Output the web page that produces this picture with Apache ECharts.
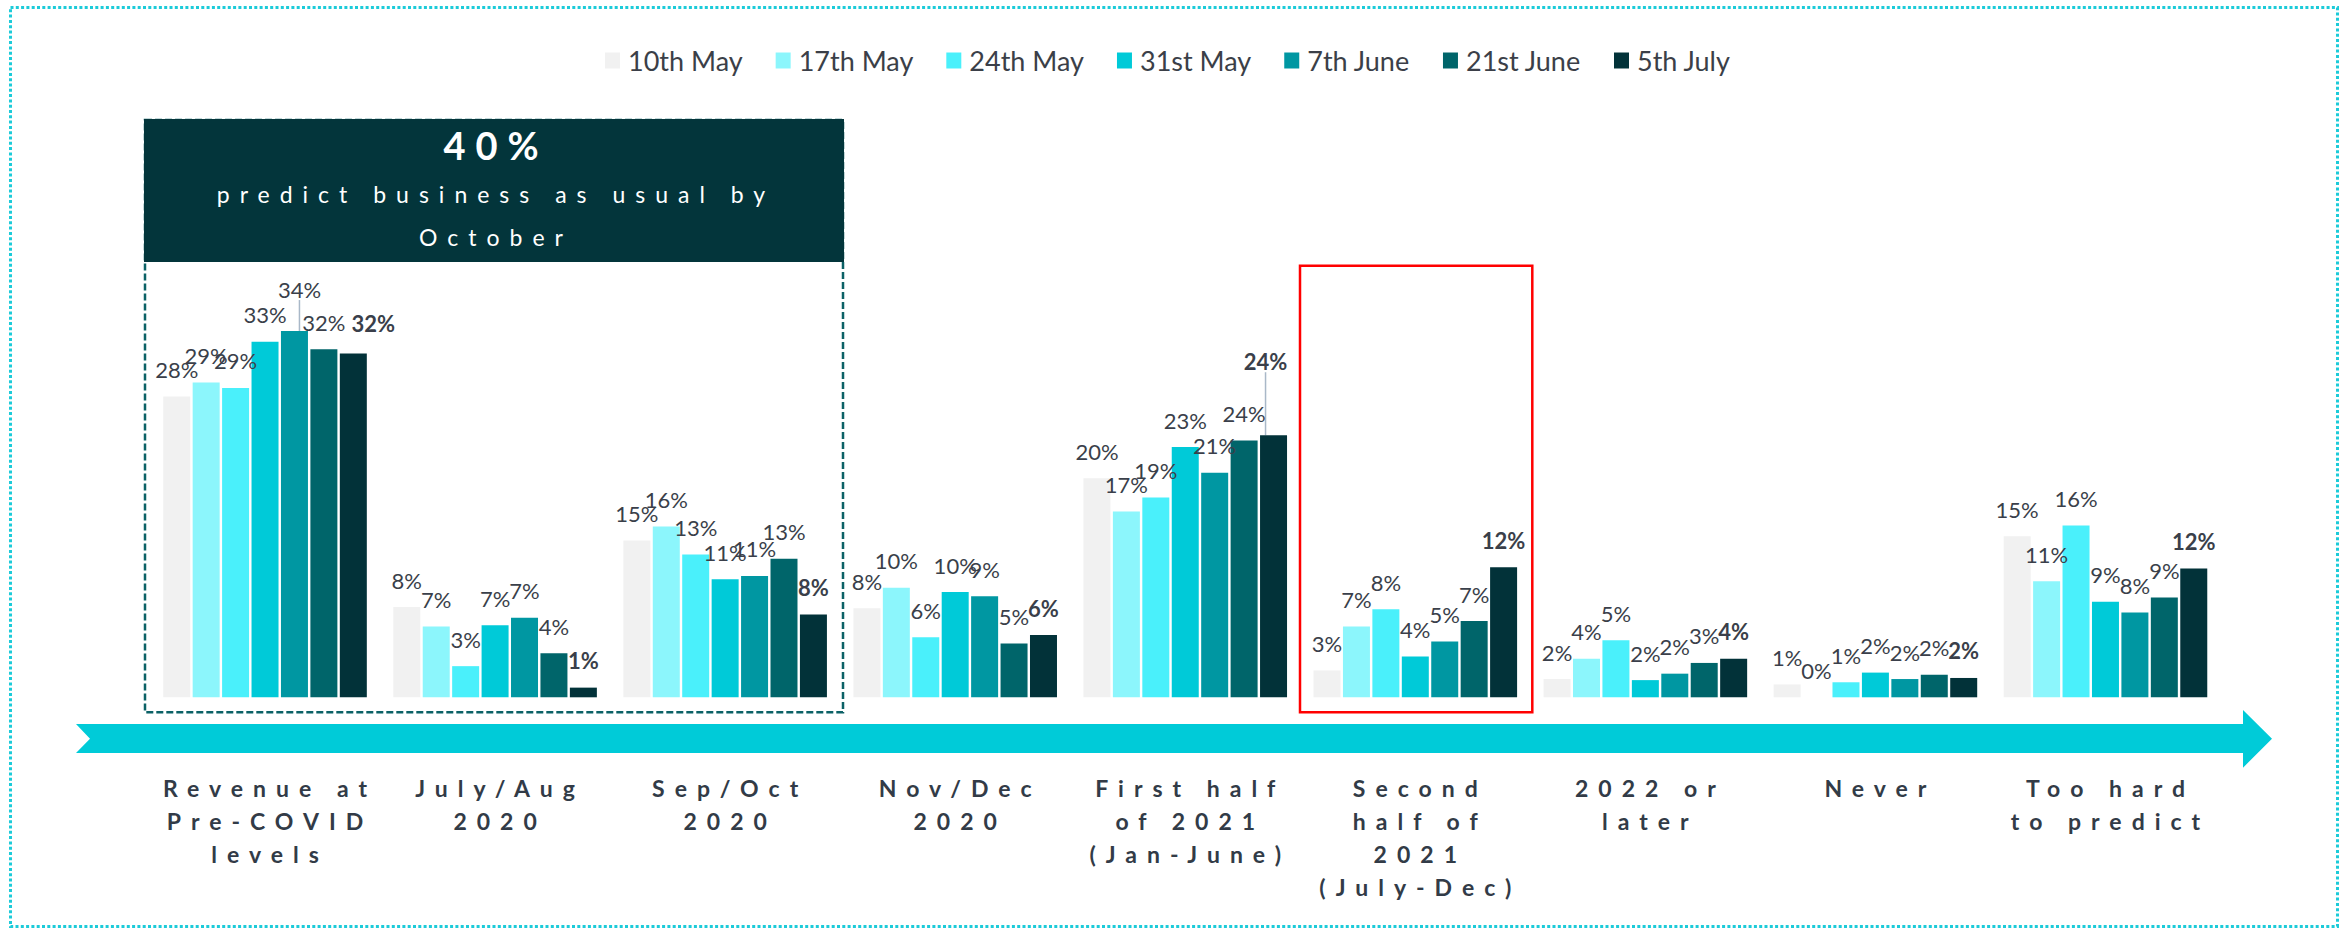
<!DOCTYPE html>
<html>
<head>
<meta charset="utf-8">
<title>When will business return to normal</title>
<script src="https://cdn.jsdelivr.net/npm/echarts@6/dist/echarts.min.js"></script>
<style>
  html, body { margin: 0; padding: 0; background: #ffffff; }
  #chart { width: 2351px; height: 930px; }
</style>
</head>
<body>
<div id="chart"></div>
<script>
// categories along the timeline arrow
const categories = [
  'Revenue at\nPre-COVID\nlevels',
  'July/Aug\n2020',
  'Sep/Oct\n2020',
  'Nov/Dec\n2020',
  'First half\nof 2021\n(Jan-June)',
  'Second\nhalf of\n2021\n(July-Dec)',
  '2022 or\nlater',
  'Never',
  'Too hard\nto predict'
];

// survey waves
const waves = ['10th May', '17th May', '24th May', '31st May', '7th June', '21st June', '5th July'];

// % of respondents, one array per wave
const may10 = [28.0, 8.4, 14.6, 8.3, 20.4, 2.5, 1.7, 1.2, 15.0];
const may17 = [29.3, 6.6, 15.9, 10.2, 17.3, 6.6, 3.6, 0, 10.8];
const may24 = [28.8, 2.9, 13.3, 5.6, 18.6, 8.2, 5.3, 1.4, 16.0];
const may31 = [33.1, 6.7, 11.0, 9.8, 23.3, 3.8, 1.6, 2.3, 8.9];
const jun07 = [34.1, 7.4, 11.3, 9.4, 20.9, 5.2, 2.2, 1.7, 7.9];
const jun21 = [32.4, 4.1, 12.9, 5.0, 23.9, 7.1, 3.2, 2.1, 9.3];
const jul05 = [32.0, 0.9, 7.7, 5.8, 24.4, 12.1, 3.6, 1.8, 12.0];

const waveValues = [may10, may17, may24, may31, jun07, jun21, jul05];
const colors = ['#f1f1f1', '#8cf6fc', '#4af0fb', '#00cad8', '#0097a2', '#00656a', '#023239'];

// labels that were nudged by hand in the original (series-category : [dx, dy, leader line])
const labelMoves = {
  '4-0': [5, -15, true],
  '6-0': [20, -3, false],
  '6-4': [-8, -47, true]
};

const chart = echarts.init(document.getElementById('chart'), null, { renderer: 'svg' });

const series = waves.map(function (name, i) {
  return {
    name: name,
    type: 'bar',
    barWidth: 27,
    barGap: '9%',
    itemStyle: { color: colors[i] },
    data: waveValues[i].map(function (v, j) {
      const mv = labelMoves[i + '-' + j];
      if (mv && mv[2]) {
        return { value: v, labelLine: { show: true } };
      }
      return v;
    }),
    label: {
      show: true,
      position: 'top',
      distance: 16,
      fontFamily: 'Lato',
      fontSize: 22,
      fontWeight: i === 6 ? 'bold' : 'normal',
      color: '#3a3f4a',
      formatter: function (p) {
        return Math.round(p.value) + '%';
      }
    },
    labelLine: {
      show: false,
      lineStyle: { color: '#a9b8c8', width: 1.5 }
    },
    labelLayout: function (params) {
      const mv = labelMoves[params.seriesIndex + '-' + params.dataIndex];
      if (mv) {
        return { dx: mv[0], dy: mv[1] };
      }
      return {};
    }
  };
});

const option = {
  animation: false,
  textStyle: { fontFamily: 'Lato' },
  color: colors,
  legend: {
    data: waves,
    left: 600,
    top: 42,
    icon: 'rect',
    itemWidth: 15,
    itemHeight: 16,
    itemGap: 33,
    textStyle: {
      fontFamily: 'Lato',
      fontSize: 27,
      color: '#3b3f48',
      padding: [0, 0, 0, 3]
    }
  },
  grid: {
    left: 150,
    right: 130.5,
    top: 117.3,
    bottom: 232.7,
    containLabel: false
  },
  xAxis: {
    type: 'category',
    data: categories,
    axisLine: { show: false },
    axisTick: { show: false },
    axisLabel: {
      interval: 0,
      margin: 74,
      fontFamily: 'Lato',
      fontSize: 23,
      fontWeight: 'bold',
      lineHeight: 33,
      color: '#323b47'
    }
  },
  yAxis: {
    type: 'value',
    min: 0,
    max: 54,
    show: false,
    splitLine: { show: false }
  },
  graphic: [
    {
      // outer dotted frame
      type: 'rect',
      z: -10,
      shape: { x: 10.5, y: 7.5, width: 2327, height: 919 },
      style: { fill: 'none', stroke: '#1ccbd9', lineWidth: 3, lineDash: [3, 2.3] }
    },
    {
      // dashed box round the first three groups
      type: 'rect',
      z: -5,
      shape: { x: 145, y: 120, width: 698, height: 592.3 },
      style: { fill: 'none', stroke: '#0b6166', lineWidth: 2.5, lineDash: [7, 3] }
    },
    {
      type: 'rect',
      z: -4,
      shape: { x: 144, y: 119, width: 700, height: 143 },
      style: { fill: '#03353b' }
    },
    {
      type: 'text',
      z: 10,
      style: {
        text: '40%', x: 491, y: 145, fill: '#ffffff',
        fontFamily: 'Lato', fontSize: 38, fontWeight: 'bold',
        textAlign: 'center', textVerticalAlign: 'middle'
      }
    },
    {
      type: 'text',
      z: 10,
      style: {
        text: 'predict business as usual by', x: 491, y: 194, fill: '#ffffff',
        fontFamily: 'Lato', fontSize: 23, fontWeight: 'normal',
        textAlign: 'center', textVerticalAlign: 'middle'
      }
    },
    {
      type: 'text',
      z: 10,
      style: {
        text: 'October', x: 491, y: 237, fill: '#ffffff',
        fontFamily: 'Lato', fontSize: 23, fontWeight: 'normal',
        textAlign: 'center', textVerticalAlign: 'middle'
      }
    },
    {
      // red highlight round "Second half of 2021"
      type: 'rect',
      z: -5,
      shape: { x: 1300, y: 265.7, width: 232.3, height: 446.6 },
      style: { fill: 'none', stroke: '#ff0000', lineWidth: 2.5 }
    },
    {
      // timeline arrow
      type: 'polygon',
      z: -5,
      shape: {
        points: [[76, 724], [2243, 724], [2243, 710], [2272, 738.7], [2243, 767.7], [2243, 753], [76, 753], [90, 738.7]]
      },
      style: { fill: '#00cbd8' }
    }
  ],
  series: series
};

chart.setOption(option);

// the original uses wide letter spacing on the axis and box texts
const spacedSizes = { 23: 10, 38: 10 };
function spaceOut() {
  const texts = document.querySelectorAll('#chart svg text');
  texts.forEach(function (t) {
    if (t.getAttribute('data-spaced')) return;
    const fs = Math.round(parseFloat(getComputedStyle(t).fontSize));
    const s = spacedSizes[fs];
    if (!s) return;
    t.setAttribute('data-spaced', '1');
    t.setAttribute('letter-spacing', s);
    t.style.letterSpacing = s + 'px';
    if (t.getAttribute('text-anchor') === 'middle') {
      const x = parseFloat(t.getAttribute('x') || 0);
      t.setAttribute('x', x + s / 2);
    }
  });
}
spaceOut();
chart.on('finished', spaceOut);
</script>
</body>
</html>
